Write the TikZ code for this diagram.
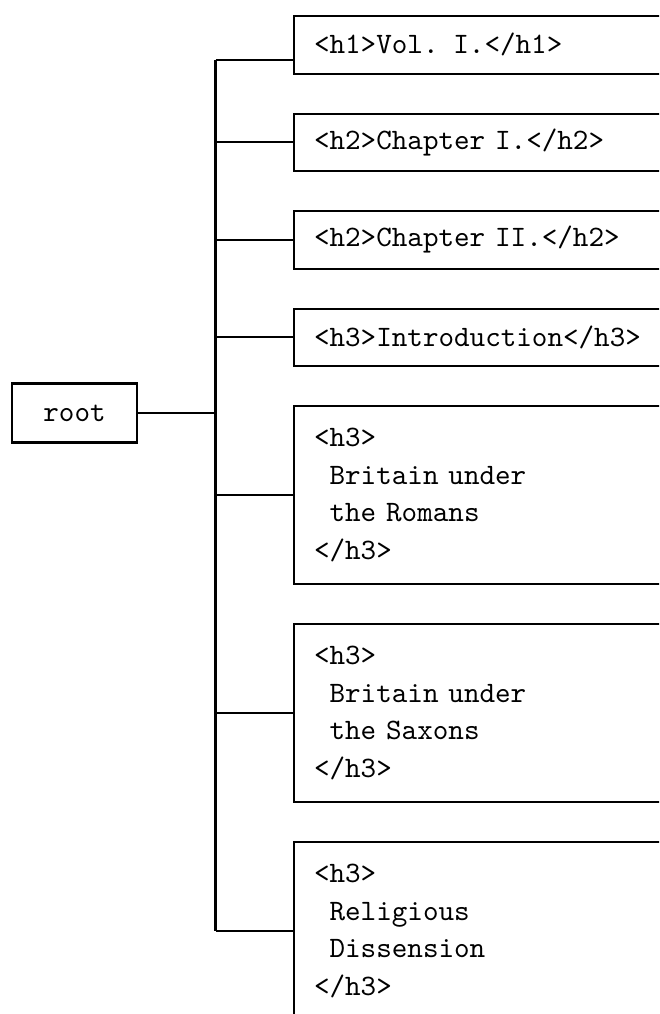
\documentclass[tikz,border=0pt]{standalone}
% typewriter face with fixed, full-width word spaces
\newcommand\monotext{\fontsize{10}{12.8}\selectfont\ttfamily
  \spaceskip=0.525em\xspaceskip=0.525em\relax}
\begin{document}
\begin{tikzpicture}[x=0.3373pt,y=-0.3373pt,
  every node/.style={font=\monotext},
  link/.style={line width=0.7pt},
  leaf/.style={draw,line width=0.7pt,anchor=north west,text width=130pt,
    align=left,inner xsep=6.75pt,inner ysep=0pt,minimum height=#1},
  leaf/.default=19.4pt,
  rootbox/.style={draw,line width=0.7pt,minimum width=42.2pt,minimum height=19.9pt,inner sep=0pt}]
\clip (0,0) rectangle (659,1014);
\useasboundingbox (0,0) rectangle (659,1014);

\node[rootbox] (root) at (74.5,413) {root};

\node[leaf] (b1) at (293,15)    {<h1>Vol. I.</h1>};
\node[leaf] (b2) at (293,112.5) {<h2>Chapter I.</h2>};
\node[leaf] (b3) at (293,210)   {<h2>Chapter II.</h2>};
\node[leaf] (b4) at (293,307.5) {<h3>Introduction</h3>};
\node[leaf=60pt] (b5) at (293,405)
  {<h3>\\\phantom{x}Britain under\\\phantom{x}the Romans\\</h3>};
\node[leaf=60pt] (b6) at (293,623)
  {<h3>\\\phantom{x}Britain under\\\phantom{x}the Saxons\\</h3>};
\node[leaf=60pt] (b7) at (293,841)
  {<h3>\\\phantom{x}Religious\\\phantom{x}Dissension\\</h3>};

\coordinate (trunk) at (215.5,0);
\coordinate (j1) at (215.5,60);

% vertical spine
\draw[link] (j1) -- (trunk |- b7.west);
% root to spine
\draw[link] (root.east) -- (root.east -| trunk);
% spine to each heading
\draw[link] (j1) -- (j1 -| b1.west);
\foreach \b in {b2,b3,b4,b5,b6,b7}
  \draw[link] (\b.west -| trunk) -- (\b.west);
\end{tikzpicture}
\end{document}
